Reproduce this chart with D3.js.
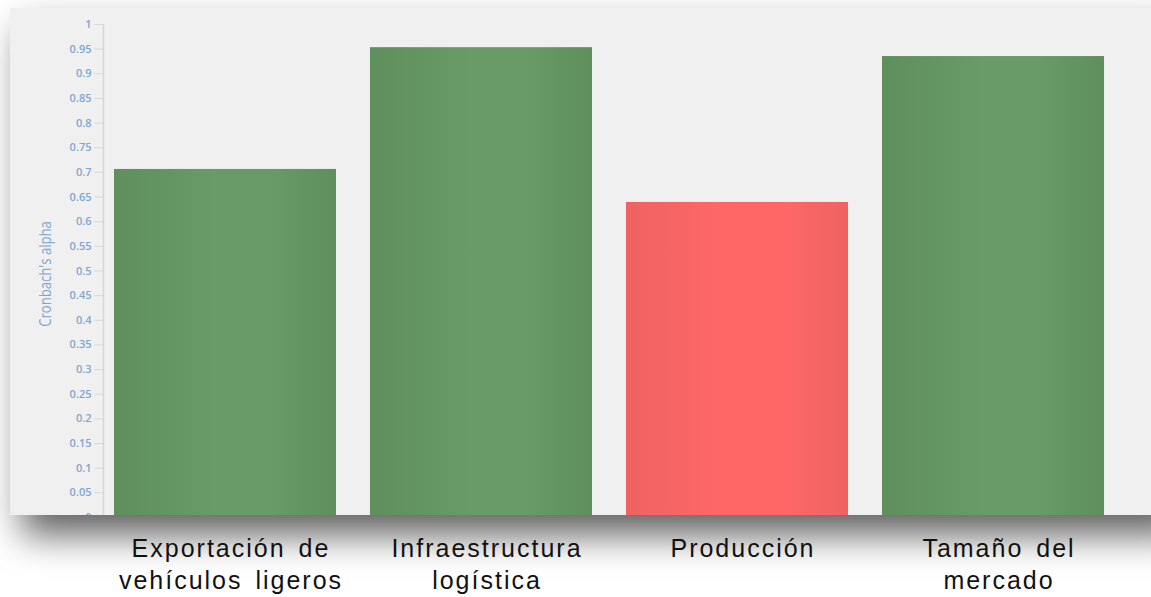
<!DOCTYPE html>
<html>
<head>
<meta charset="utf-8">
<script src="https://cdn.jsdelivr.net/npm/d3@7"></script>
<style>
  html, body { margin: 0; padding: 0; background: #ffffff; }
  svg { display: block; }
</style>
</head>
<body>
<svg id="chart" width="1151" height="597"></svg>
<script>
// Internal consistency (Cronbach's alpha) per construct
const categories = [
  ["Exportación de", "vehículos ligeros"],
  ["Infraestructura", "logística"],
  ["Producción"],
  ["Tamaño del", "mercado"]
];
const alphaValues = [0.706, 0.953, 0.639, 0.935];
const passesThreshold = [true, true, false, true];
const tickValues = [0, 0.05, 0.1, 0.15, 0.2, 0.25, 0.3, 0.35, 0.4, 0.45, 0.5,
                    0.55, 0.6, 0.65, 0.7, 0.75, 0.8, 0.85, 0.9, 0.95, 1];
const axisTitle = "Cronbach's alpha";

const svg = d3.select("#chart");
const W = 1151, H = 597;

const panel = { x: 10, y: 8, w: 1160, h: 507 };

const defs = svg.append("defs");

// soft drop shadow under the chart panel
const shadow = defs.append("filter").attr("id", "panelShadow")
  .attr("x", "-10%").attr("y", "-15%").attr("width", "120%").attr("height", "140%");
shadow.append("feDropShadow")
  .attr("dx", 12).attr("dy", 20).attr("stdDeviation", 18)
  .attr("flood-color", "#000").attr("flood-opacity", 0.62);

defs.append("clipPath").attr("id", "panelClip")
  .append("rect").attr("x", panel.x).attr("y", panel.y)
  .attr("width", panel.w).attr("height", panel.h);

function barGradient(id, edge, mid) {
  const g = defs.append("linearGradient").attr("id", id)
    .attr("x1", "0%").attr("x2", "100%").attr("y1", "0%").attr("y2", "0%");
  g.append("stop").attr("offset", "0%").attr("stop-color", edge);
  g.append("stop").attr("offset", "45%").attr("stop-color", mid);
  g.append("stop").attr("offset", "70%").attr("stop-color", mid);
  g.append("stop").attr("offset", "100%").attr("stop-color", edge);
}
barGradient("gradGreen", "#5e8f5c", "#689b68");
barGradient("gradRed", "#ef6262", "#ff6767");

svg.append("rect").attr("width", W).attr("height", H).attr("fill", "#ffffff");

svg.append("rect")
  .attr("x", panel.x).attr("y", panel.y)
  .attr("width", panel.w).attr("height", panel.h)
  .attr("fill", "#f0f0f0")
  .attr("filter", "url(#panelShadow)");

const plot = svg.append("g").attr("clip-path", "url(#panelClip)");

const y = d3.scaleLinear().domain([0, 1]).range([517, 24]);
const x = d3.scaleBand()
  .domain(d3.range(categories.length))
  .range([104, 1114])
  .paddingInner(0.1328)
  .paddingOuter(0.039);

// bars
plot.selectAll("rect.bar")
  .data(alphaValues)
  .join("rect")
  .attr("class", "bar")
  .attr("x", (d, i) => x(i))
  .attr("width", x.bandwidth())
  .attr("y", d => y(d))
  .attr("height", d => y(0) - y(d))
  .attr("fill", (d, i) => passesThreshold[i] ? "url(#gradGreen)" : "url(#gradRed)");

// value axis
const axis = d3.axisLeft(y)
  .tickValues(tickValues)
  .tickSize(9)
  .tickPadding(3)
  .tickFormat(d => String(+d.toFixed(2)));

const axisG = plot.append("g")
  .attr("transform", "translate(103.5,0)")
  .call(axis);
axisG.select(".domain").attr("stroke", "#d6d6d6").attr("stroke-width", 1.5)
  .attr("d", `M0,${y(1)}V${y(0)}`);
axisG.selectAll(".tick line").attr("stroke", "#d6d6d6").attr("stroke-width", 1);
axisG.selectAll(".tick text")
  .attr("fill", "#7ea6cf")
  .style("font-family", "'Open Sans', sans-serif")
  .style("font-size", "11px")
  .style("font-weight", "600");

// axis title (narrow, rotated)
svg.append("text")
  .attr("transform", "translate(51,274) rotate(-90) scale(0.82,1)")
  .attr("text-anchor", "middle")
  .attr("fill", "#7ea6cf")
  .style("font-family", "'Open Sans', sans-serif")
  .style("font-size", "16px")
  .text(axisTitle);

// category labels below the panel
const labels = svg.append("g");
categories.forEach((lines, i) => {
  const cx = x(i) + x.bandwidth() / 2 + 6;
  const t = labels.append("text")
    .attr("text-anchor", "middle")
    .attr("fill", "#111111")
    .style("font-family", "'Liberation Sans', Arial, sans-serif")
    .style("font-size", "25px")
    .style("letter-spacing", "2px")
    .style("word-spacing", "4px");
  lines.forEach((line, k) => {
    t.append("tspan").attr("x", cx).attr("y", 557 + k * 31.5).text(line);
  });
});
</script>
</body>
</html>
